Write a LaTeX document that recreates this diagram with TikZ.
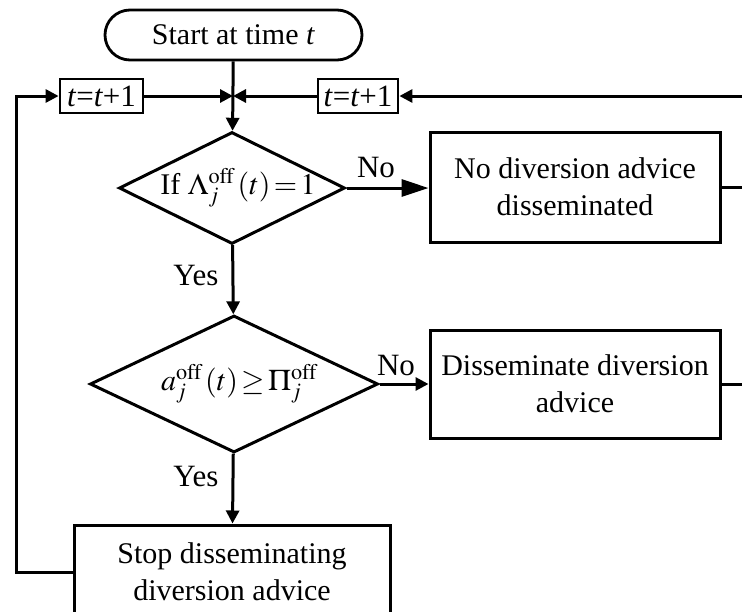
\documentclass[tikz,border=0pt]{standalone}
\usepackage{mathptmx}
\usepackage[no-math]{fontspec}
\setmainfont{Liberation Serif}
\usetikzlibrary{arrows.meta,shapes.geometric}

\begin{document}
\begin{tikzpicture}[x=1pt,y=-1pt,
  line width=3pt,
  font=\fontsize{30}{37}\selectfont,
  every node/.style={inner sep=0pt},
  procbox/.style={draw,rectangle,align=center,line width=3pt},
  incbox/.style={draw,rectangle,line width=2.8pt,minimum height=34pt,font=\fontsize{31}{36}\selectfont},
  decision/.style={draw,diamond,aspect=2,line width=3pt},
  arr/.style={-{Triangle[length=13pt,width=13pt]}},
  bigarr/.style={-{Triangle[length=27pt,width=17pt]}},
  lbl/.style={font=\fontsize{31}{34}\selectfont}]

\clip (0,0) rectangle (742,611);

% terminal
\node[draw,rectangle,rounded corners=25pt,minimum width=257pt,minimum height=50pt,line width=2.8pt]
  (start) at (233.5,35) {Start at time \textit{t}};

% time step boxes
\node[incbox,minimum width=83pt] (incL) at (101.5,96) {\textit{t}=\textit{t}+1};
\node[incbox,minimum width=80pt] (incR) at (358,96) {\textit{t}=\textit{t}+1};
\coordinate (junc) at (233,96);

% decisions (fixed outline size, condition text centred slightly right)
\node[decision,minimum width=226pt,minimum height=112pt] (d1) at (232,188)
  {\makebox[0pt]{\kern12pt If $\Lambda_j^{\mathrm{off}}\,(t)\mkern-2mu=\mkern-2mu1$}};
\node[decision,minimum width=288pt,minimum height=137pt] (d2) at (234,384)
  {\makebox[0pt]{\kern10pt $a_j^{\mathrm{off}}\,(t)\mkern-2mu\geq\mkern-2mu\Pi_j^{\mathrm{off}}$}};

% actions
\node[procbox,minimum width=290pt,minimum height=110pt] (b1) at (575,187)
  {No diversion advice\\disseminated};
\node[procbox,minimum width=290pt,minimum height=108pt] (b2) at (575,384)
  {Disseminate diversion\\advice};
\node[procbox,minimum width=316pt,minimum height=94pt] (b3) at (232,572)
  {Stop disseminating\\diversion advice};

% branch labels
\node[lbl] (no1) at (376,167) {No};
\node[lbl] (yes1) at (196,275) {Yes};
\node[lbl] (no2) at (396,365) {No};
\node[lbl] (yes2) at (196,476) {Yes};

% loop turning points
\coordinate (lx) at (16,96);
\coordinate (rx) at (762,96);

% main flow
\draw[arr] (start) -- (d1);
\draw[arr] (incL) -- (junc);
\draw[arr] (incR) -- (junc);
\draw[bigarr] (d1.east) -- (b1.west |- d1.east);
\draw[arr] (d1) -- (d2);
\draw[arr] (d2.east) -- (b2.west |- d2.east);
\draw[arr] (d2) -- (b3);

% feedback to the next time step
\draw[arr] (b3.west) -- (lx |- b3.west) -- (lx) -- (incL);
\draw (b1.east) -- (rx |- b1.east);
\draw[arr] (b2.east) -- (rx |- b2.east) -- (rx) -- (incR);
\end{tikzpicture}
\end{document}
